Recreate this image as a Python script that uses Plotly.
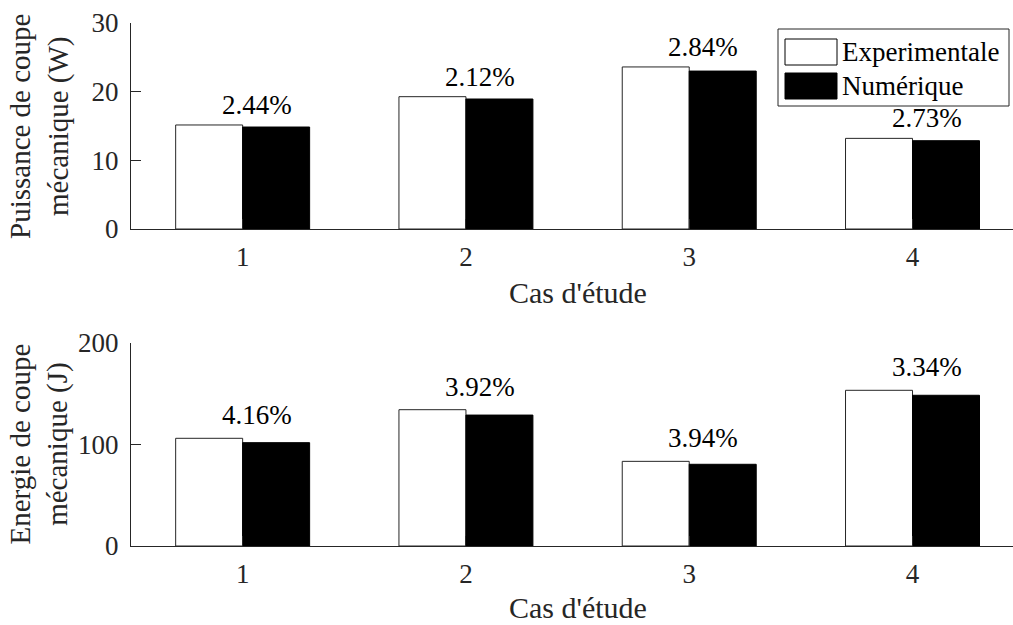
import plotly.graph_objects as go

# ---------------- data ----------------
cases = [1, 2, 3, 4]
case_labels = ["1", "2", "3", "4"]
power_exp = [15.15, 19.27, 23.6, 13.2]
power_num = [14.85, 18.93, 23.0, 12.86]
power_err = ["2.44%", "2.12%", "2.84%", "2.73%"]
energy_exp = [106.1, 134.3, 83.4, 153.4]
energy_num = [101.8, 129.0, 80.5, 148.5]
energy_err = ["4.16%", "3.92%", "3.94%", "3.34%"]
power_ticks = [0, 10, 20, 30]
energy_ticks = [0, 100, 200]
series_names = ["Experimentale", "Numérique"]
x_title = "Cas d'étude"
power_title = "Puissance de coupe<br>mécanique (W)"
energy_title = "Energie de coupe<br>mécanique (J)"

# ---------------- style ----------------
W, H = 1013, 625
ML, MR, MT, MB = 131, 0, 23, 79
PW, PH = W - ML - MR, H - MT - MB
FONT = "Times New Roman, Liberation Serif, Times, serif"
AX = "#262626"


def px(x):
    return (x - ML) / PW


def py(y):
    return (H - MB - y) / PH


fig = go.Figure()
for xa, ya, exp, num in [("x", "y", power_exp, power_num), ("x2", "y2", energy_exp, energy_num)]:
    fig.add_trace(go.Bar(x=cases, y=exp, name=series_names[0], xaxis=xa, yaxis=ya,
                         marker=dict(color="white", line=dict(color=AX, width=1)),
                         showlegend=False))
    fig.add_trace(go.Bar(x=cases, y=num, name=series_names[1], xaxis=xa, yaxis=ya,
                         marker=dict(color="black", line=dict(color="black", width=1)),
                         showlegend=False))

axis_common = dict(showline=True, linecolor=AX, linewidth=1, ticks="inside", ticklen=10,
                   tickcolor=AX, showgrid=False, zeroline=False,
                   tickfont=dict(family=FONT, size=27, color=AX))

top_dom = [py(229), 1.0]
bot_dom = [0.0, py(343)]

fig.update_layout(
    width=W, height=H,
    margin=dict(l=ML, r=MR, t=MT, b=MB, autoexpand=False),
    paper_bgcolor="white", plot_bgcolor="white",
    barmode="group", bargap=0.4, bargroupgap=0,
    font=dict(family=FONT, color=AX),
    xaxis=dict(domain=[0, 1], anchor="y", range=[0.5, 4.45], tickvals=cases,
               ticktext=case_labels, ticklabelstandoff=4, **axis_common),
    yaxis=dict(domain=top_dom, anchor="x", range=[0, 30], tickvals=power_ticks,
               ticklabelstandoff=6, **axis_common),
    xaxis2=dict(domain=[0, 1], anchor="y2", range=[0.5, 4.45], tickvals=cases,
                ticktext=case_labels, ticklabelstandoff=4, **axis_common),
    yaxis2=dict(domain=bot_dom, anchor="x2", range=[0, 200], tickvals=energy_ticks,
                ticklabelstandoff=6, **axis_common),
)

ann = []
# percentage labels
for xa, ya, vals, labels, shift in [("x", "y", power_exp, power_err, 20),
                                     ("x2", "y2", energy_exp, energy_err, 23)]:
    for c, v, t in zip(cases, vals, labels):
        ann.append(dict(x=c, y=v, xref=xa, yref=ya, text=t, showarrow=False,
                        xanchor="center", yanchor="middle", xshift=14, yshift=shift,
                        font=dict(family=FONT, size=27, color="black")))

# axis titles
for xa, yd, dom in [("x", "y domain", top_dom), ("x2", "y2 domain", bot_dom)]:
    ann.append(dict(x=2.5, xref=xa, y=0, yref=yd, text=x_title, showarrow=False,
                    xanchor="center", yanchor="middle", yshift=-63 if xa == "x" else -61,
                    font=dict(family=FONT, size=30, color=AX)))
for yd, t in [("y domain", power_title), ("y2 domain", energy_title)]:
    ann.append(dict(x=0, xref="paper", y=0.5, yref=yd, text=t, showarrow=False,
                    textangle=-90, xanchor="center", yanchor="middle", xshift=-92,
                    font=dict(family=FONT, size=29, color=AX)))

# legend (drawn manually to reproduce the large swatches)
shapes = [
    dict(type="rect", xref="paper", yref="paper", x0=px(778), x1=px(1009), y0=py(106), y1=py(29),
         line=dict(color=AX, width=1), fillcolor="white"),
    dict(type="rect", xref="paper", yref="paper", x0=px(785), x1=px(837), y0=py(65), y1=py(39),
         line=dict(color="black", width=1), fillcolor="white"),
    dict(type="rect", xref="paper", yref="paper", x0=px(785), x1=px(837), y0=py(99), y1=py(73),
         line=dict(color="black", width=1), fillcolor="black"),
]
for name, yc in zip(series_names, [52, 86]):
    ann.append(dict(x=px(840), y=py(yc), xref="paper", yref="paper", text=name, showarrow=False,
                    xanchor="left", yanchor="middle",
                    font=dict(family=FONT, size=27, color="black")))

fig.update_layout(annotations=ann, shapes=shapes)
fig.write_html("out.html")
